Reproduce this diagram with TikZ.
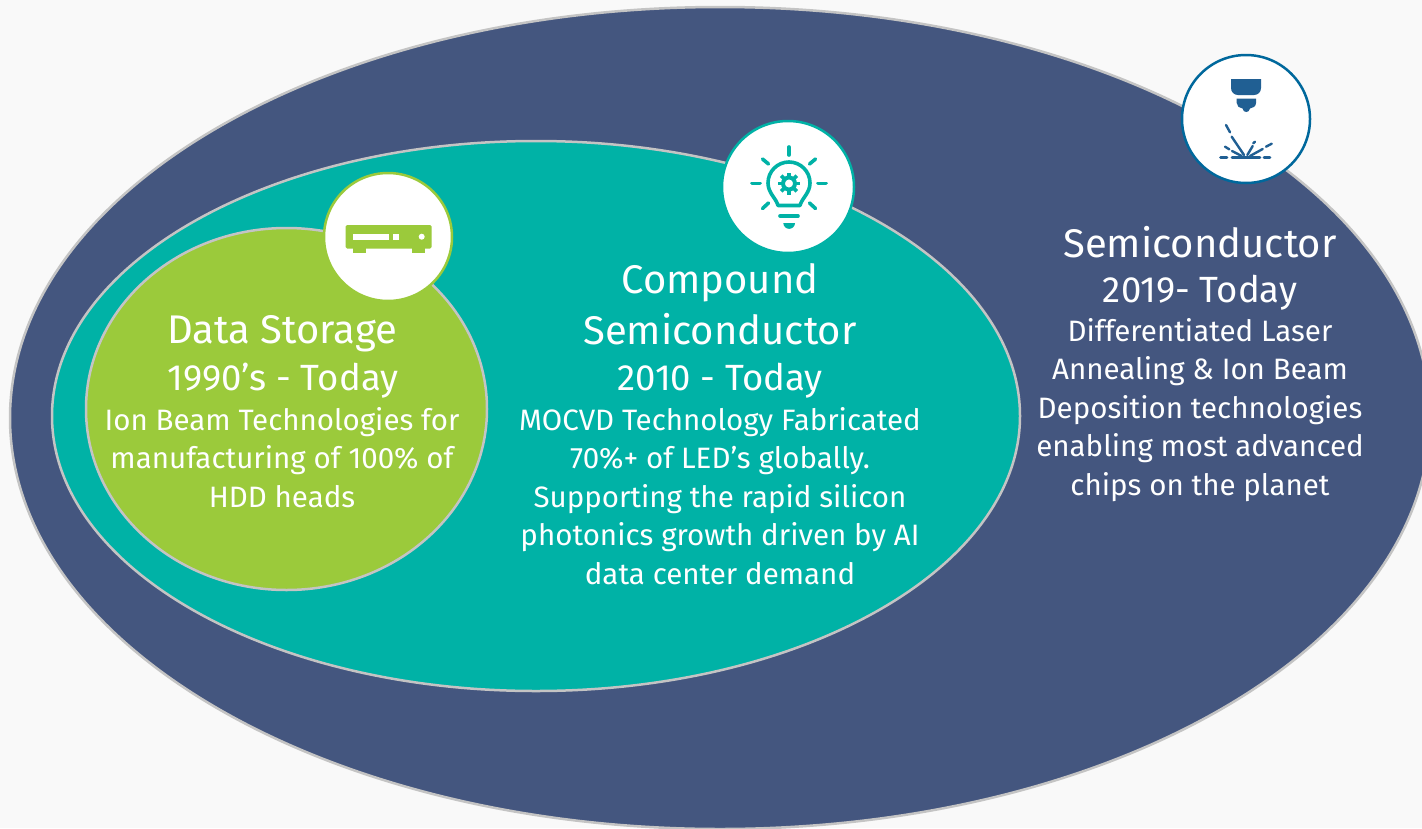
\documentclass[tikz,border=0pt]{standalone}
\usepackage{fontspec}
\setmainfont{Fira Sans}
\definecolor{navyback}{HTML}{44567F}
\definecolor{tealback}{HTML}{00B2A6}
\definecolor{limeback}{HTML}{9BCA3B}
\definecolor{laserblue}{HTML}{205F93}
\definecolor{laserring}{HTML}{00689C}
\definecolor{edgegrey}{HTML}{C4C4C4}
\definecolor{pageback}{HTML}{F9F9F9}
\tikzset{
  titletext/.style={text=white,font=\fontsize{40}{40}\selectfont},
  yeartext/.style={text=white,font=\fontsize{36.5}{36.5}\selectfont},
  bodytext/.style={text=white,align=center,font=\fontsize{29.5}{38.5}\selectfont},
  blob/.style={draw=edgegrey,line width=2.5pt},
  badge/.style={fill=white,line width=2.5pt}
}
\begin{document}
\begin{tikzpicture}[x=1pt,y=-1pt]
\useasboundingbox (0,0) rectangle (1422,828);
\clip (0,0) rectangle (1422,828);
\fill[pageback] (0,0) rectangle (1422,828);
% the three fields
\draw[blob,fill=navyback] (720,418) ellipse [x radius=710,y radius=411];
\draw[blob,fill=tealback] (536,416) ellipse [x radius=484,y radius=275];
\draw[blob,fill=limeback] (286.5,409) ellipse [x radius=200.5,y radius=181];
% badges
\draw[badge,draw=laserring] (1246,119) circle (64);
\draw[badge,draw=tealback] (788,187) circle (66);
\draw[badge,draw=limeback] (388,237) circle (64);
% laser icon
\fill[laserblue] (1231,79) -- (1261,79) -- (1261,88) .. controls (1261,92) and (1258,95) .. (1254,95) -- (1238,95) .. controls (1234,95) and (1231,92) .. (1231,88) -- cycle;
\fill[laserblue] (1236.7,98.5) -- (1256,98.5) -- (1256,103) .. controls (1256,106) and (1253,108.5) .. (1250,108.5) .. controls (1249.5,111) and (1248,112) .. (1246.3,112) .. controls (1244.5,112) and (1243,111) .. (1242.5,108.5) .. controls (1239.5,108.5) and (1236.7,106) .. (1236.7,103) -- cycle;
\foreach \a/\b/\c/\d in {1226/125/1230/132.3, 1231.7/136.7/1244/155, 1225/146.7/1229.3/149.3, 1232/151/1241.7/156, 1247.3/155/1252.7/146, 1253.3/143.3/1255/141.7, 1250/156/1262.7/149, 1266/146.7/1271.7/143.7}
  \draw[laserblue,line width=2.4pt,line cap=round] (\a,\b) -- (\c,\d);
\foreach \a/\c in {1220.5/1227, 1232/1260, 1264/1270}
  \draw[laserblue,line width=2.6pt,line cap=round] (\a,157.7) -- (\c,157.7);
% bulb icon
\begin{scope}[tealback,line width=3.6pt,line cap=round]
\draw[line join=round] (778,205.5) .. controls (776,198) and (768,193) .. (768,183) arc (180:360:21) .. controls (810,193) and (802,198) .. (800,205.5) -- cycle;
\draw (789,147) -- (789,155);
\draw (762.5,159) -- (768.5,164);
\draw (815.5,159) -- (809.5,164);
\draw (752,183.3) -- (760,183.3);
\draw (818,183.3) -- (826,183.3);
\draw (762.5,208.5) -- (768.5,203);
\draw (815.5,208.5) -- (809.5,203);
\draw (780,216) -- (798,216);
\fill (783.3,223) -- (795,223) arc (0:180:5.85) -- cycle;
\foreach \r in {0,45,...,315}
  \draw[line width=3.6pt,line cap=butt] (789,183.5) ++(\r:6) -- ++(\r:5);
\draw[line width=4pt] (789,183.5) circle (6);
\end{scope}
% storage icon
\fill[limeback,rounded corners=1.5pt] (345.7,225) rectangle (431.7,248.5);
\fill[limeback] (353.3,248) rectangle (365.7,252.5);
\fill[limeback] (412.3,248) rectangle (425,252.5);
\fill[white] (353.3,233.7) rectangle (389,239.7);
\fill[white] (393,233.7) rectangle (399,239.7);
\fill[white] (421.7,236.7) circle (3);
% texts
\node[titletext] (storetitle) at (282,334) {Data Storage};
\node[yeartext] (storeyear) at (283,381) {1990’s - Today};
\node[bodytext] (storebody) at (282,457.5) {Ion Beam Technologies for\\manufacturing of 100\% of\\HDD heads};
\node[titletext] (comptitle) at (720,304) [align=center,font=\fontsize{40}{51}\selectfont] {Compound\\Semiconductor};
\node[yeartext] (compyear) at (720,381) {2010 - Today};
\node[bodytext] (compbody) at (720,496) {MOCVD Technology Fabricated\\70\%+ of LED’s globally.\\Supporting the rapid silicon\\photonics growth driven by AI\\data center demand};
\node[titletext] (semititle) at (1200,242) {Semiconductor};
\node[yeartext] (semiyear) at (1200,293) {2019- Today};
\node[bodytext] (semibody) at (1200,410) {Differentiated Laser\\Annealing \& Ion Beam\\Deposition technologies\\enabling most advanced\\chips on the planet};
\end{tikzpicture}
\end{document}
